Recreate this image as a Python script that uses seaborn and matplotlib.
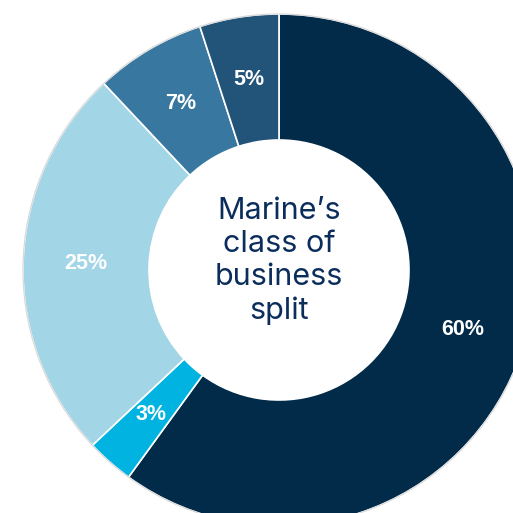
import matplotlib
matplotlib.use("Agg")
import matplotlib.pyplot as plt
import numpy as np
import seaborn as sns
from matplotlib.patches import Circle

sns.set_theme(style="white")
plt.rcParams["font.family"] = ["Liberation Sans", "DejaVu Sans"]

# ---- data -------------------------------------------------------------------
segments = ["Segment A", "Segment B", "Segment C", "Segment D", "Segment E"]
shares = [60, 3, 25, 7, 5]
pct_labels = ["60%", "3%", "25%", "7%", "5%"]
colors = ["#022b4a", "#00b3e1", "#a2d5e6", "#38779f", "#225378"]
center_title = "Marine\u2019s\nclass of\nbusiness\nsplit"

# ---- layout (pixels of the 513x513 canvas) ----------------------------------
W = 513
cx, cy, R, r_in = 279, 270, 256, 130

fig = plt.figure(figsize=(W / 100, W / 100), dpi=100)
ax = fig.add_axes([0, 0, 1, 1])

wedges, _ = ax.pie(
    shares, colors=colors, startangle=90, counterclock=False, radius=1.0,
    wedgeprops=dict(width=1 - r_in / R, edgecolor="white", linewidth=1.2),
)
ax.add_patch(Circle((0, 0), 1.0, fill=False, edgecolor="#d9d9d9", lw=0.9, zorder=3))

# pie() resets the limits, so place the (partly cropped) ring afterwards
ax.set_xlim(-cx / R, (W - cx) / R)
ax.set_ylim(-(W - cy) / R, cy / R)
ax.set_aspect("equal")
ax.axis("off")

# percentage labels at the middle of the ring
ang = 90 - (np.cumsum(shares) - np.array(shares) / 2) / sum(shares) * 360
rmid = (1 + r_in / R) / 2
for a, lab in zip(ang, pct_labels):
    ax.text(rmid * np.cos(np.radians(a)), rmid * np.sin(np.radians(a)), lab,
            ha="center", va="center", color="white", fontsize=15.5,
            fontweight="bold")

ax.text(0, 9 / R, center_title, ha="center", va="center", color="#0b2d5c",
        fontsize=22, linespacing=1.22, family=["Inter", "DejaVu Sans"])

fig.savefig("out.png", dpi=100)
